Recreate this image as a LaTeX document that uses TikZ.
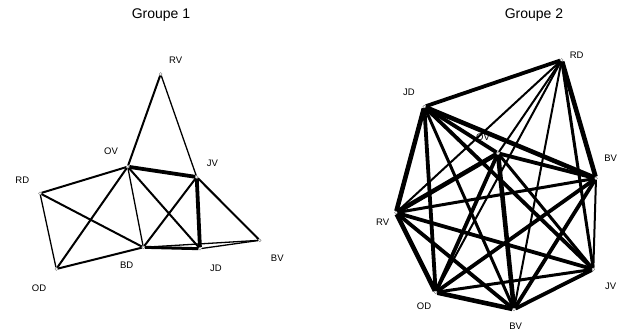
\documentclass[tikz,border=0pt]{standalone}
\usepackage{fontspec}
\setmainfont{Liberation Sans}
\usepackage{tikz}

\tikzset{
  pt/.style={circle, draw=gray, fill=white, line width=0.4pt, inner sep=0pt, minimum size=3pt},
  lbl/.style={inner sep=0pt, font=\fontsize{9.5}{10}\selectfont},
  ttl/.style={inner sep=0pt, font=\fontsize{14}{16}\selectfont},
  w1/.style={line width=1.3pt},
  w2/.style={line width=2pt},
  w3/.style={line width=3pt},
  w4/.style={line width=3.8pt},
  w5/.style={line width=4.6pt}
}

\begin{document}
\begin{tikzpicture}[x=1pt, y=-1pt]
    \useasboundingbox (0,0) rectangle (621,332);
    % titres
    \node[ttl] (t1) at (161, 15) {Groupe 1};
    \node[ttl] (t2) at (534, 15) {Groupe 2};

    % groupe 1
    \node[pt] (RV1) at (160.7, 74) {};
    \node[pt] (OV1) at (127.7, 166.7) {};
    \node[pt] (JV1) at (196.7, 177) {};
    \node[pt] (RD1) at (40, 193.3) {};
    \node[pt] (OD1) at (56.3, 269) {};
    \node[pt] (BD1) at (143.3, 247.3) {};
    \node[pt] (JD1) at (200, 248.7) {};
    \node[pt] (BV1) at (259.7, 240.3) {};
    \node[lbl] (lRV1) at (175.7, 60) {RV};
    \node[lbl] (lOV1) at (111, 151.7) {OV};
    \node[lbl] (lJV1) at (212.3, 163.3) {JV};
    \node[lbl] (lRD1) at (22.3, 180) {RD};
    \node[lbl] (lOD1) at (39, 288.3) {OD};
    \node[lbl] (lBD1) at (126.7, 265) {BD};
    \node[lbl] (lJD1) at (216, 268.3) {JD};
    \node[lbl] (lBV1) at (277.3, 258.3) {BV};

    \draw[w2] (RV1) -- (OV1);
    \draw[w1] (RV1) -- (JV1);
    \draw[w4] (OV1) -- (JV1);
    \draw[w2] (OV1) -- (RD1);
    \draw[w2] (OV1) -- (OD1);
    \draw[w1] (OV1) -- (BD1);
    \draw[w2] (OV1) -- (JD1);
    \draw[w2] (RD1) -- (BD1);
    \draw[w1] (RD1) -- (OD1);
    \draw[w2] (OD1) -- (BD1);
    \draw[w2] (BD1) -- (JV1);
    \draw[w3] (BD1) -- (JD1);
    \draw[w4] (JV1) -- (JD1);
    \draw[w2] (JV1) -- (BV1);
    \draw[w1] (JD1) -- (BV1);
    \draw[w1] (BD1) -- (BV1);

    % groupe 2
    \node[pt] (RD2) at (561.7, 60) {};
    \node[pt] (JD2) at (424.3, 106.7) {};
    \node[pt] (OV2) at (498, 153.3) {};
    \node[pt] (BVa2) at (596, 178.3) {};
    \node[pt] (RV2) at (396, 212.7) {};
    \node[pt] (JV2) at (593.3, 269.3) {};
    \node[pt] (OD2) at (435.7, 292.3) {};
    \node[pt] (BVb2) at (514, 309.3) {};
    \node[lbl] (lRD2) at (576.7, 55) {RD};
    \node[lbl] (lJD2) at (409, 92.7) {JD};
    \node[lbl] (lOV2) at (483, 137) {OV};
    \node[lbl] (lBVa2) at (610.7, 158.3) {BV};
    \node[lbl] (lRV2) at (382.7, 222.7) {RV};
    \node[lbl] (lJV2) at (610.7, 286.7) {JV};
    \node[lbl] (lOD2) at (424, 306.7) {OD};
    \node[lbl] (lBVb2) at (515.7, 326.7) {BV};

    \draw[w4] (RD2) -- (JD2);
    \draw[w5] (RD2) -- (BVa2);
    \draw[w3] (RD2) -- (JV2);
    \draw[w2] (RD2) -- (BVb2);
    \draw[w2] (RD2) -- (OV2);
    \draw[w2] (RD2) -- (OD2);
    \draw[w2] (RD2) -- (RV2);
    \draw[w5] (JD2) -- (RV2);
    \draw[w4] (JD2) -- (OD2);
    \draw[w5] (JD2) -- (BVa2);
    \draw[w4] (JD2) -- (JV2);
    \draw[w4] (JD2) -- (OV2);
    \draw[w3] (JD2) -- (BVb2);
    \draw[w5] (RV2) -- (OD2);
    \draw[w5] (RV2) -- (OV2);
    \draw[w3] (RV2) -- (BVa2);
    \draw[w4] (RV2) -- (JV2);
    \draw[w4] (RV2) -- (BVb2);
    \draw[w5] (OD2) -- (BVb2);
    \draw[w4] (OD2) -- (OV2);
    \draw[w4] (OD2) -- (BVa2);
    \draw[w3] (OD2) -- (JV2);
    \draw[w4] (BVb2) -- (JV2);
    \draw[w5] (BVb2) -- (OV2);
    \draw[w4] (BVb2) -- (BVa2);
    \draw[w2] (JV2) -- (BVa2);
    \draw[w3] (JV2) -- (OV2);
    \draw[w4] (BVa2) -- (OV2);
\end{tikzpicture}
\end{document}
